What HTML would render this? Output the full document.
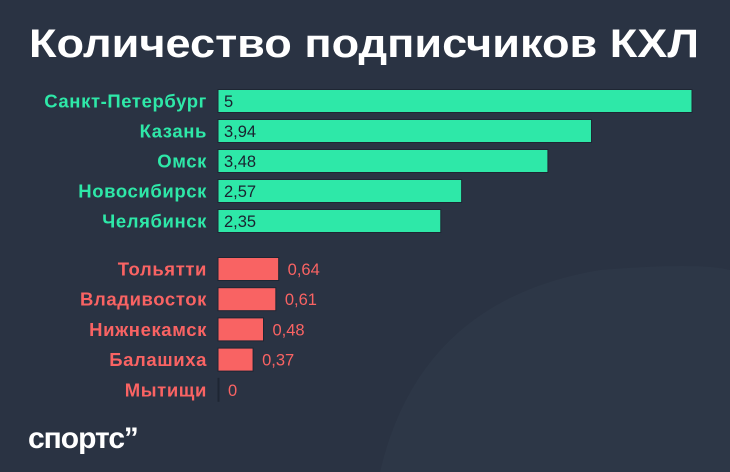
<!DOCTYPE html>
<html><head><meta charset="utf-8">
<style>
html,body{margin:0;padding:0;background:#2a3343;width:730px;height:472px;overflow:hidden;}
svg{display:block;font-family:"Liberation Sans",sans-serif;}
</style></head>
<body>
<svg id="chart" width="730" height="472" viewBox="0 0 730 472">
<rect width="730" height="472" fill="#2a3343"/>
<path d="M380 472 Q420 300 600 270 Q700 262 730 270 L730 472 Z" fill="#2f3949" opacity="0.7"/>
<text x="29" y="57" fill="#ffffff" font-size="40" font-weight="bold" textLength="670" lengthAdjust="spacingAndGlyphs">Количество подписчиков КХЛ</text>
<g id="bars"></g>
<text x="28" y="448" fill="#ffffff" font-size="30" font-weight="bold" letter-spacing="-1">спортс’’</text>
</svg>
<script>
const categories = ["Санкт-Петербург","Казань","Омск","Новосибирск","Челябинск","Тольятти","Владивосток","Нижнекамск","Балашиха","Мытищи"];
const values = [5,3.94,3.48,2.57,2.35,0.64,0.61,0.48,0.37,0];
const labels = ["5","3,94","3,48","2,57","2,35","0,64","0,61","0,48","0,37","0"];
const groupSplit = 5;

const x0 = 218, pxPerUnit = 94.8;
function xScale(v){ return x0 + v * pxPerUnit; }
function yCenter(i){ return i < groupSplit ? 101 + i*30 : 269 + (i-groupSplit)*30.2; }
const ns = "http://www.w3.org/2000/svg";
const g = document.getElementById('bars');
categories.forEach((c,i)=>{
  const top = i < groupSplit;
  const col = top ? "#2ee8a8" : "#f96363";
  const yc = yCenter(i);
  const w = Math.max(xScale(values[i]) - x0, 1);
  const r = document.createElementNS(ns,'rect');
  
  
  r.setAttribute('x', x0); r.setAttribute('y', yc-11.5);
  r.setAttribute('width', w); r.setAttribute('height', 23);
  r.setAttribute('fill', col); r.setAttribute('stroke', '#1e2633'); r.setAttribute('stroke-width','1');
  g.appendChild(r);
  const t = document.createElementNS(ns,'text');
  
  
  t.setAttribute('x', 207); t.setAttribute('y', yc+6.5);
  t.setAttribute('text-anchor','end'); t.setAttribute('fill', col);
  t.setAttribute('font-size','18.5'); t.setAttribute('font-weight','bold'); t.setAttribute('letter-spacing','0.6');
  t.textContent = c; g.appendChild(t);
  const v = document.createElementNS(ns,'text');
  
  
  v.setAttribute('y', yc+6); v.setAttribute('font-size','16.5');
  if(top){ v.setAttribute('x', x0+6); v.setAttribute('fill','#1a2230'); }
  else { v.setAttribute('x', x0+w+9); v.setAttribute('fill', col); }
  v.textContent = labels[i]; g.appendChild(v);
});
</script>
</body></html>
